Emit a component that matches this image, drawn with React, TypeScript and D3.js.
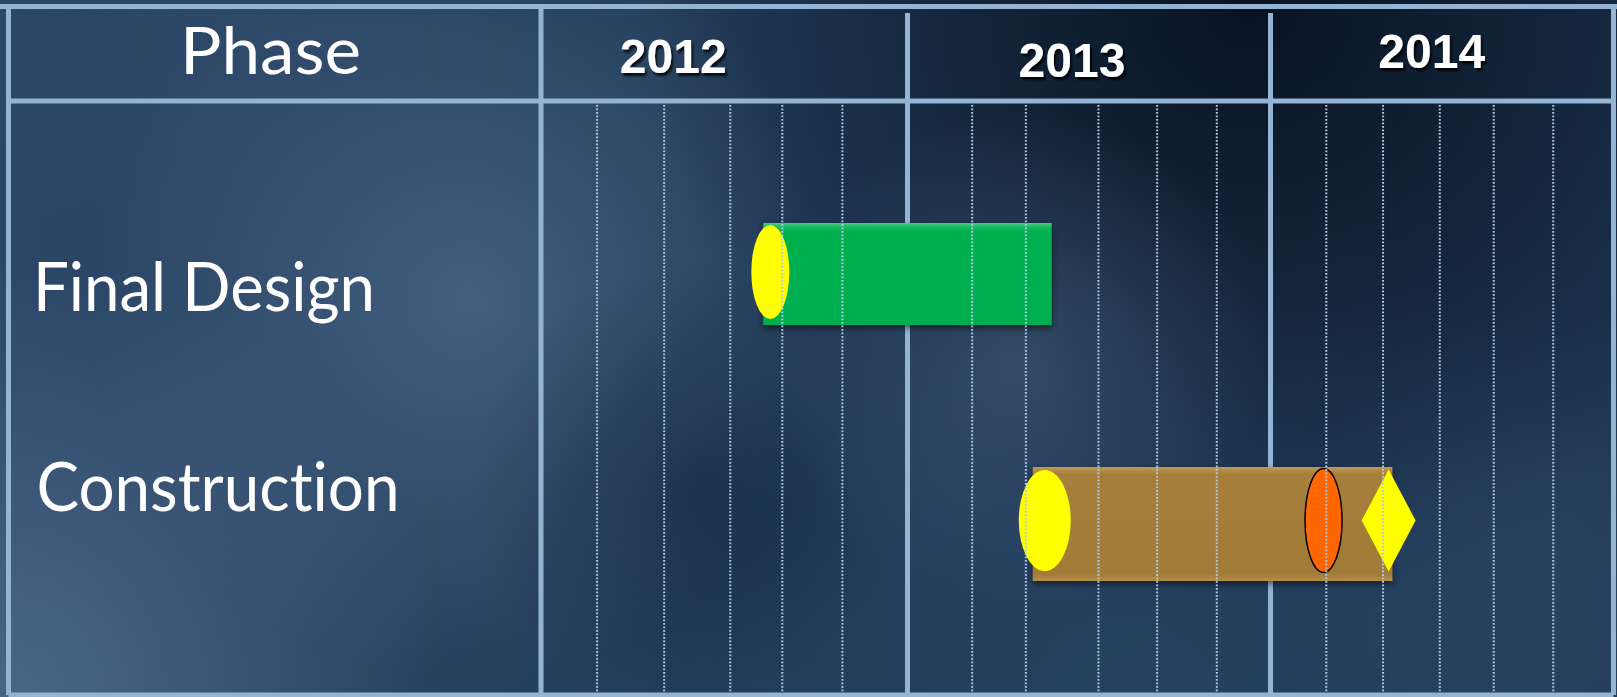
import React, { useEffect, useRef } from "react";
import * as d3 from "d3";

const width = 1617;
const height = 697;

// chart data
const phases = ["Final Design", "Construction"];
const years = ["2012", "2013", "2014"];
const yearBounds = ["2012-01-01", "2013-01-01", "2014-01-01", "2015-01-01"];
const barStart = ["2012-08-10", "2013-05-07"];
const barEnd = ["2013-05-26", "2014-05-12"];
const startOval = ["2012-08-17", "2013-05-19"];
const progressPhase = ["Construction"];
const progressDate = ["2014-02-27"];
const finishPhase = ["Construction"];
const finishDate = ["2014-05-08"];
const gridDates = [
  "2012-02-26", "2012-05-03", "2012-07-08", "2012-08-29", "2012-10-28",
  "2013-03-07", "2013-04-30", "2013-07-12", "2013-09-09", "2013-11-08",
  "2014-03-02", "2014-05-02", "2014-07-02", "2014-08-29", "2014-11-01",
];

// layout / style
const frame = { left: 8.5, right: 1613.5, top: 6.5, bottom: 695, header: 101, labelCol: 541 };
const lineColor = "#95b4d4";
const dotColor = "#b0cbe6";
const barColors = ["url(#greenFill)", "url(#brownFill)"];
const barHeights = [102, 114];
const markerDy = [-2, -3.5];
const ovalSize = [
  [19, 47],
  [26, 50.5],
];
const labelStyle = [
  { x: 33, dy: 37, len: 342 },
  { x: 36.5, dy: -13, len: 363 },
];
const yearNudge = [
  { dx: -51, y: 73.3 },
  { dx: -17, y: 76.7 },
  { dx: -8.5, y: 68 },
];
const labelFont = "Lato, 'Open Sans', sans-serif";

export default function App(): JSX.Element {
  const chartRef = useRef<SVGSVGElement>(null);

  useEffect(() => {
    if (!chartRef.current) return;
    const svg = d3.select(chartRef.current);
    svg.selectAll("*").remove();

    const parse = d3.timeParse("%Y-%m-%d");
    const x = d3
      .scaleTime()
      .domain(yearBounds.map((d) => parse(d) as Date))
      .range([frame.labelCol, 907.5, 1270.5, 1610]);
    const y = d3.scalePoint().domain(phases).range([274, 524]);

    const defs = svg.append("defs");

    const radial = (id: string, cx: number, cy: number, r: number, color: string, op: number) => {
      const g = defs
        .append("radialGradient")
        .attr("id", id)
        .attr("gradientUnits", "userSpaceOnUse")
        .attr("cx", cx)
        .attr("cy", cy)
        .attr("r", r);
      g.append("stop").attr("offset", 0).attr("stop-color", color).attr("stop-opacity", op);
      g.append("stop").attr("offset", 1).attr("stop-color", color).attr("stop-opacity", 0);
      return `url(#${id})`;
    };

    const base = defs.append("linearGradient").attr("id", "baseFill").attr("x1", 0).attr("x2", 1).attr("y1", 0).attr("y2", 0);
    base.append("stop").attr("offset", 0).attr("stop-color", "#2c4667");
    base.append("stop").attr("offset", 0.5).attr("stop-color", "#213b59");
    base.append("stop").attr("offset", 1).attr("stop-color", "#1d3654");

    const vert = (id: string, stops: [number, string][]) => {
      const g = defs.append("linearGradient").attr("id", id).attr("x1", 0).attr("x2", 0).attr("y1", 0).attr("y2", 1);
      stops.forEach(([o, c]) => g.append("stop").attr("offset", o).attr("stop-color", c));
    };
    vert("greenFill", [
      [0, "#40cf7e"],
      [0.05, "#12b55a"],
      [0.1, "#00b050"],
      [1, "#00ae4f"],
    ]);
    vert("brownFill", [
      [0, "#c29a52"],
      [0.06, "#a67f3b"],
      [0.94, "#a17b38"],
      [1, "#b88f49"],
    ]);

    const shadow = defs.append("filter").attr("id", "barShadow").attr("x", "-10%").attr("y", "-20%").attr("width", "120%").attr("height", "150%");
    shadow
      .append("feDropShadow")
      .attr("dx", 0)
      .attr("dy", 3)
      .attr("stdDeviation", 3.5)
      .attr("flood-color", "#000")
      .attr("flood-opacity", 0.55);

    const textShadow = defs.append("filter").attr("id", "yearShadow").attr("x", "-10%").attr("y", "-20%").attr("width", "130%").attr("height", "150%");
    textShadow
      .append("feDropShadow")
      .attr("dx", 2)
      .attr("dy", 3)
      .attr("stdDeviation", 1.3)
      .attr("flood-color", "#000")
      .attr("flood-opacity", 0.8);

    // background
    const bg = svg.append("g");
    bg.append("rect").attr("width", width).attr("height", height).attr("fill", "url(#baseFill)");
    const glows: [string, number, number, number, string, number][] = [
      ["g1", 470, 300, 380, "#5a7697", 0.55],
      ["g2", 20, 690, 430, "#6785a5", 0.5],
      ["g8", 1150, 720, 520, "#2e4c6d", 0.45],
      ["g3", 1250, 0, 600, "#040c18", 0.85],
      ["g4", 700, 490, 230, "#0c2139", 0.45],
      ["g5", 1020, 360, 250, "#4f6a8a", 0.45],
      ["g6", 1570, 600, 300, "#3b5676", 0.35],
      ["g7", 230, 40, 260, "#35506f", 0.35],
    ];
    glows.forEach(([id, cx, cy, r, c, op]) => {
      bg.append("rect").attr("width", width).attr("height", height).attr("fill", radial(id, cx, cy, r, c, op));
    });

    // frame lines
    const lines = svg.append("g").attr("stroke", lineColor).attr("stroke-width", 5);
    lines.append("line").attr("x1", 0).attr("x2", width).attr("y1", frame.top).attr("y2", frame.top);
    lines.append("line").attr("x1", frame.left).attr("x2", frame.left).attr("y1", frame.top).attr("y2", frame.bottom);
    lines.append("line").attr("x1", frame.right).attr("x2", frame.right).attr("y1", frame.top).attr("y2", frame.bottom);
    lines.append("line").attr("x1", frame.left).attr("x2", frame.right).attr("y1", frame.bottom).attr("y2", frame.bottom);
    lines.append("line").attr("x1", frame.left).attr("x2", frame.right).attr("y1", frame.header).attr("y2", frame.header);
    lines.append("line").attr("x1", frame.labelCol).attr("x2", frame.labelCol).attr("y1", frame.top).attr("y2", frame.bottom);
    lines
      .selectAll("line.year")
      .data(yearBounds.slice(1, -1))
      .join("line")
      .attr("class", "year")
      .attr("x1", (d) => x(parse(d) as Date))
      .attr("x2", (d) => x(parse(d) as Date))
      .attr("y1", 13)
      .attr("y2", frame.bottom);

    // bars
    const rows = svg
      .append("g")
      .selectAll("g")
      .data(phases)
      .join("g");

    rows
      .append("rect")
      .attr("x", (d, i) => x(parse(barStart[i]) as Date))
      .attr("y", (d, i) => (y(d) as number) - barHeights[i] / 2)
      .attr("width", (d, i) => x(parse(barEnd[i]) as Date) - x(parse(barStart[i]) as Date))
      .attr("height", (d, i) => barHeights[i])
      .attr("fill", (d, i) => barColors[i])
      .attr("filter", "url(#barShadow)");

    rows
      .append("ellipse")
      .attr("cx", (d, i) => x(parse(startOval[i]) as Date))
      .attr("cy", (d, i) => (y(d) as number) + markerDy[i])
      .attr("rx", (d, i) => ovalSize[i][0])
      .attr("ry", (d, i) => ovalSize[i][1])
      .attr("fill", "#ffff00");

    svg
      .append("g")
      .selectAll("ellipse")
      .data(progressPhase)
      .join("ellipse")
      .attr("cx", (d, i) => x(parse(progressDate[i]) as Date))
      .attr("cy", (d) => (y(d) as number) + markerDy[phases.indexOf(d)])
      .attr("rx", 18.5)
      .attr("ry", 52)
      .attr("fill", "#ff6600")
      .attr("stroke", "#000")
      .attr("stroke-width", 1.5);

    const diamond = (cx: number, cy: number) =>
      d3.line()([
        [cx, cy - 51],
        [cx + 27, cy],
        [cx, cy + 51],
        [cx - 27, cy],
      ]) + "Z";

    svg
      .append("g")
      .selectAll("path")
      .data(finishPhase)
      .join("path")
      .attr("d", (d, i) => diamond(x(parse(finishDate[i]) as Date), (y(d) as number) + markerDy[phases.indexOf(d)]))
      .attr("fill", "#ffff00");

    // dotted month lines
    svg
      .append("g")
      .selectAll("line")
      .data(gridDates)
      .join("line")
      .attr("x1", (d) => x(parse(d) as Date))
      .attr("x2", (d) => x(parse(d) as Date))
      .attr("y1", 105)
      .attr("y2", frame.bottom - 2)
      .attr("stroke", dotColor)
      .attr("stroke-width", 2)
      .attr("stroke-dasharray", "1.8 1.7");

    // header texts
    svg
      .append("text")
      .attr("x", 180)
      .attr("y", 74)
      .attr("font-family", labelFont)
      .attr("font-size", 66)
      .attr("fill", "#fff")
      .attr("textLength", 181)
      .attr("lengthAdjust", "spacingAndGlyphs")
      .style("font-variant-ligatures", "none")
      .text("Phase");

    svg
      .append("g")
      .selectAll("text")
      .data(years)
      .join("text")
      .attr("x", (d, i) => (x(parse(yearBounds[i]) as Date) + x(parse(yearBounds[i + 1]) as Date)) / 2 + yearNudge[i].dx)
      .attr("y", (d, i) => yearNudge[i].y)
      .attr("text-anchor", "middle")
      .attr("font-family", "'Liberation Sans', Arial, sans-serif")
      .attr("font-weight", "bold")
      .attr("font-size", 48)
      .attr("fill", "#fff")
      .attr("filter", "url(#yearShadow)")
      .text((d) => d);

    svg
      .append("g")
      .selectAll("text")
      .data(phases)
      .join("text")
      .attr("x", (d, i) => labelStyle[i].x)
      .attr("y", (d, i) => (y(d) as number) + labelStyle[i].dy)
      .attr("font-family", labelFont)
      .attr("font-size", 67)
      .attr("fill", "#fff")
      .attr("textLength", (d, i) => labelStyle[i].len)
      .attr("lengthAdjust", "spacingAndGlyphs")
      .style("font-variant-ligatures", "none")
      .style("font-feature-settings", "'liga' 0, 'clig' 0, 'dlig' 0")
      .text((d) => d);
  }, []);

  return (
    <svg
      ref={chartRef}
      width={width}
      height={height}
      style={{ position: "absolute", left: 0, top: 0, display: "block" }}
    />
  );
}
